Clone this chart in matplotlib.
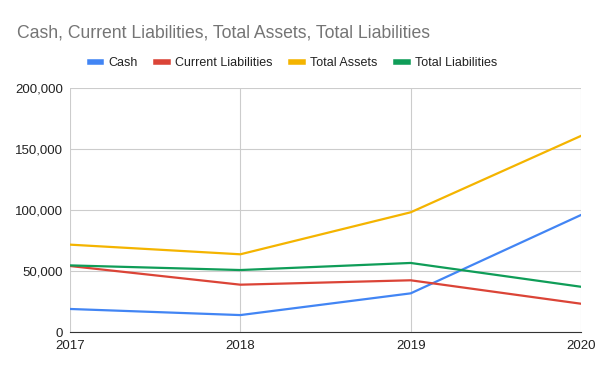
import matplotlib.pyplot as plt
from matplotlib.ticker import FuncFormatter

plt.rcParams['font.family'] = ['Liberation Sans', 'DejaVu Sans']

years = [2017, 2018, 2019, 2020]
cash = [18900, 13900, 31700, 95900]
current_liabilities = [54100, 38800, 42400, 23200]
total_assets = [71600, 63700, 98100, 160700]
total_liabilities = [54600, 50800, 56600, 37100]

names = ['Cash', 'Current Liabilities', 'Total Assets', 'Total Liabilities']
colors = ['#4285f4', '#db4437', '#f4b400', '#0f9d58']

fig = plt.figure(figsize=(6, 3.71), dpi=100)
ax = fig.add_axes([0.1167, 0.105, 0.8516, 0.658])

for vals, name, c in zip([cash, current_liabilities, total_assets, total_liabilities], names, colors):
    ax.plot(years, vals, color=c, lw=1.6, label=name)

ax.set_xlim(2017, 2020)
ax.set_ylim(0, 200000)
ax.set_xticks(years)
ax.set_yticks(range(0, 200001, 50000))
ax.yaxis.set_major_formatter(FuncFormatter(lambda v, p: f'{int(v):,}'))
ax.grid(True, color='#cccccc', lw=0.8)
ax.set_axisbelow(True)
for s in ['top', 'right', 'left']:
    ax.spines[s].set_visible(False)
ax.spines['bottom'].set_color('#333333')
ax.tick_params(length=0, labelsize=9.5, colors='#222222')
ax.tick_params(axis='y', pad=5)
ax.tick_params(axis='x', pad=6)

fig.text(0.028, 0.91, 'Cash, Current Liabilities, Total Assets, Total Liabilities',
         fontsize=12.7, color='#757575', va='center', ha='left')

leg = fig.legend(loc='center', bbox_to_anchor=(0.489, 0.83), ncol=4, frameon=False,
                 fontsize=9, handlelength=0.9, handletextpad=0.6, columnspacing=1.5)
for h in leg.get_lines():
    h.set_linewidth(4)
for t in leg.get_texts():
    t.set_color('#222222')

fig.savefig('out.png', dpi=100)
